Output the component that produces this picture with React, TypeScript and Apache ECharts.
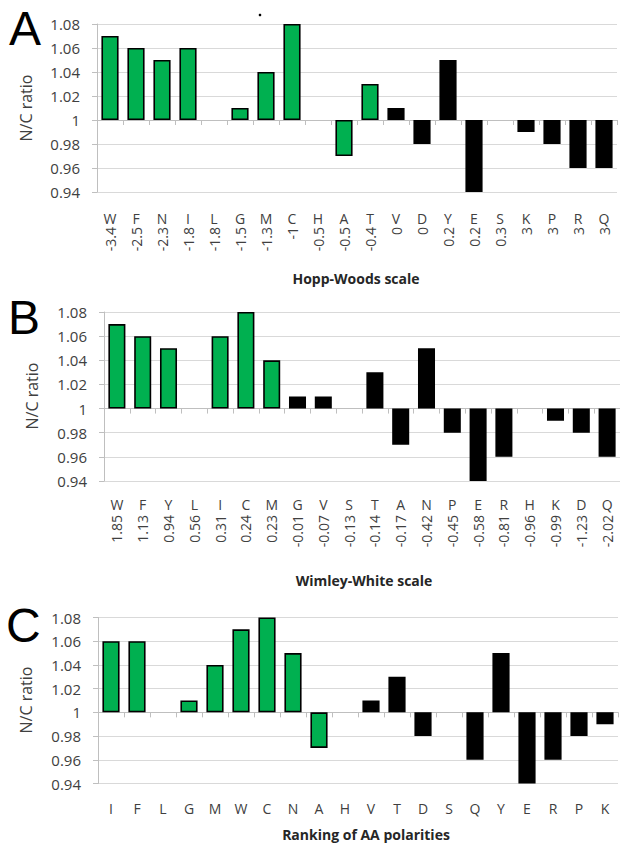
import React, { useEffect, useRef } from "react";
import * as echarts from "echarts";

// Panel A – Hopp-Woods scale
const catsA = ["W", "F", "N", "I", "L", "G", "M", "C", "H", "A", "T", "V", "D", "Y", "E", "S", "K", "P", "R", "Q"];
const scaleA = ["-3.4", "-2.5", "-2.3", "-1.8", "-1.8", "-1.5", "-1.3", "-1", "-0.5", "-0.5", "-0.4", "0", "0", "0.2", "0.2", "0.3", "3", "3", "3", "3"];
const ratioA = [1.07, 1.06, 1.05, 1.06, null, 1.01, 1.04, 1.08, null, 0.97, 1.03, 1.01, 0.98, 1.05, 0.94, null, 0.99, 0.98, 0.96, 0.96];
const greenA = ["W", "F", "N", "I", "G", "M", "C", "A", "T"];

// Panel B – Wimley-White scale
const catsB = ["W", "F", "Y", "L", "I", "C", "M", "G", "V", "S", "T", "A", "N", "P", "E", "R", "H", "K", "D", "Q"];
const scaleB = ["1.85", "1.13", "0.94", "0.56", "0.31", "0.24", "0.23", "-0.01", "-0.07", "-0.13", "-0.14", "-0.17", "-0.42", "-0.45", "-0.58", "-0.81", "-0.96", "-0.99", "-1.23", "-2.02"];
const ratioB = [1.07, 1.06, 1.05, null, 1.06, 1.08, 1.04, 1.01, 1.01, null, 1.03, 0.97, 1.05, 0.98, 0.94, 0.96, null, 0.99, 0.98, 0.96];
const greenB = ["W", "F", "Y", "I", "C", "M"];

// Panel C – Ranking of AA polarities
const catsC = ["I", "F", "L", "G", "M", "W", "C", "N", "A", "H", "V", "T", "D", "S", "Q", "Y", "E", "R", "P", "K"];
const ratioC = [1.06, 1.06, null, 1.01, 1.04, 1.07, 1.08, 1.05, 0.97, null, 1.01, 1.03, 0.98, null, 0.96, 1.05, 0.94, 0.96, 0.98, 0.99];
const greenC = ["I", "F", "G", "M", "W", "C", "N", "A"];

const yTicks = { min: 0.94, max: 1.08, step: 0.02, base: 1 };

const FONT = "'Open Sans', sans-serif";
const LABEL_FONT = "'Liberation Sans', Arial, sans-serif";
const TEXT = "#404040";
const AXIS = "#bfbfbf";
const GRIDC = "#d9d9d9";
const GREEN = "#00B050";

const panels = [
  {
    cats: catsA, nums: scaleA, vals: ratioA, greens: greenA,
    grid: { left: 97, top: 24, width: 520, height: 168 },
    letterMargin: 19.5, numMargin: 35,
    label: "A", labelX: 9, labelY: 28.5,
    nameX: 26, nameY: 108,
    title: "Hopp-Woods scale", titleX: 356, titleY: 278,
  },
  {
    cats: catsB, nums: scaleB, vals: ratioB, greens: greenB,
    grid: { left: 104, top: 312, width: 519, height: 169 },
    letterMargin: 16, numMargin: 34,
    label: "B", labelX: 8, labelY: 317,
    nameX: 31.5, nameY: 396,
    title: "Wimley-White scale", titleX: 364, titleY: 580,
  },
  {
    cats: catsC, nums: null, vals: ratioC, greens: greenC,
    grid: { left: 98, top: 617.5, width: 520, height: 166 },
    letterMargin: 17.5, numMargin: 0,
    label: "C", labelX: 6, labelY: 625,
    nameX: 26, nameY: 700,
    title: "Ranking of AA polarities", titleX: 366, titleY: 834,
  },
];

function textEl(text: string, x: number, y: number, font: string, opts: any = {}) {
  return {
    type: "text",
    x,
    y,
    rotation: opts.rotation || 0,
    silent: true,
    style: {
      text,
      font,
      fill: opts.fill || TEXT,
      align: opts.align || "center",
      textAlign: opts.align || "center",
      verticalAlign: "middle",
      textVerticalAlign: "middle",
    },
  };
}

function buildOption() {
  const grids: any[] = [];
  const xAxes: any[] = [];
  const yAxes: any[] = [];
  const series: any[] = [];
  const graphics: any[] = [];

  panels.forEach((p, i) => {
    grids.push({ ...p.grid, containLabel: false });
    const baseIndex = xAxes.length;
    // axis line at ratio 1 with boundary ticks
    xAxes.push({
      gridIndex: i,
      type: "category",
      data: p.cats,
      position: "bottom",
      axisLine: { show: true, onZero: true, lineStyle: { color: AXIS, width: 1 } },
      axisTick: { show: true, length: 5, lineStyle: { color: AXIS } },
      axisLabel: { show: false },
      splitLine: { show: false },
    });
    // letters
    xAxes.push({
      gridIndex: i,
      type: "category",
      data: p.cats,
      position: "bottom",
      axisLine: { show: false, onZero: false },
      axisTick: { show: false },
      axisLabel: { show: true, interval: 0, margin: p.letterMargin, fontSize: 14, fontFamily: FONT, color: TEXT },
      splitLine: { show: false },
    });
    // scale numbers (rotated)
    if (p.nums) {
      const nums = p.nums;
      xAxes.push({
        gridIndex: i,
        type: "category",
        data: p.cats,
        position: "bottom",
        axisLine: { show: false, onZero: false },
        axisTick: { show: false },
        axisLabel: {
          show: true, interval: 0, rotate: 90, margin: p.numMargin, fontSize: 14, fontFamily: FONT, color: TEXT,
          formatter: (_v: any, idx: number) => nums[idx],
        },
        splitLine: { show: false },
      });
    }
    yAxes.push({
      gridIndex: i,
      type: "value",
      min: +(yTicks.min - yTicks.base).toFixed(4),
      max: +(yTicks.max - yTicks.base).toFixed(4),
      interval: yTicks.step,
      axisLine: { show: true, lineStyle: { color: AXIS } },
      axisTick: { show: true, length: 5, lineStyle: { color: AXIS } },
      splitLine: { show: true, lineStyle: { color: GRIDC, width: 1 } },
      axisLabel: {
        margin: 17, fontSize: 15, fontFamily: FONT, color: TEXT,
        formatter: (v: number) => String(parseFloat((yTicks.base + v).toFixed(2))),
      },
    });
    series.push({
      type: "bar",
      xAxisIndex: baseIndex,
      yAxisIndex: i,
      barWidth: "66%",
      itemStyle: { borderColor: "#000", borderWidth: 1.6 },
      data: p.vals.map((v, j) =>
        v == null
          ? null
          : {
              value: +(v - yTicks.base).toFixed(4),
              itemStyle: { color: p.greens.includes(p.cats[j]) ? GREEN : "#000" },
            }
      ),
    });

    graphics.push(textEl(p.label, p.labelX, p.labelY, `48px ${LABEL_FONT}`, { align: "left", fill: "#000" }));
    graphics.push(textEl("N/C ratio", p.nameX, p.nameY, `16px ${FONT}`, { rotation: Math.PI / 2 }));
    graphics.push(textEl(p.title, p.titleX, p.titleY, `bold 14px ${FONT}`, { fill: "#262626" }));
  });

  graphics.push({ type: "circle", silent: true, shape: { cx: 260, cy: 15, r: 1.3 }, style: { fill: "#000" } });

  return {
    animation: false,
    backgroundColor: "#ffffff",
    grid: grids,
    xAxis: xAxes,
    yAxis: yAxes,
    series,
    graphic: graphics,
  };
}

export default function App() {
  const ref = useRef<HTMLDivElement>(null);
  useEffect(() => {
    if (!ref.current) return;
    const chart = echarts.init(ref.current, undefined, { renderer: "svg" });
    chart.setOption(buildOption());
    return () => chart.dispose();
  }, []);
  return (
    <div
      ref={ref}
      style={{ position: "absolute", left: 0, top: 0, width: 620, height: 845, background: "#fff" }}
    />
  );
}
